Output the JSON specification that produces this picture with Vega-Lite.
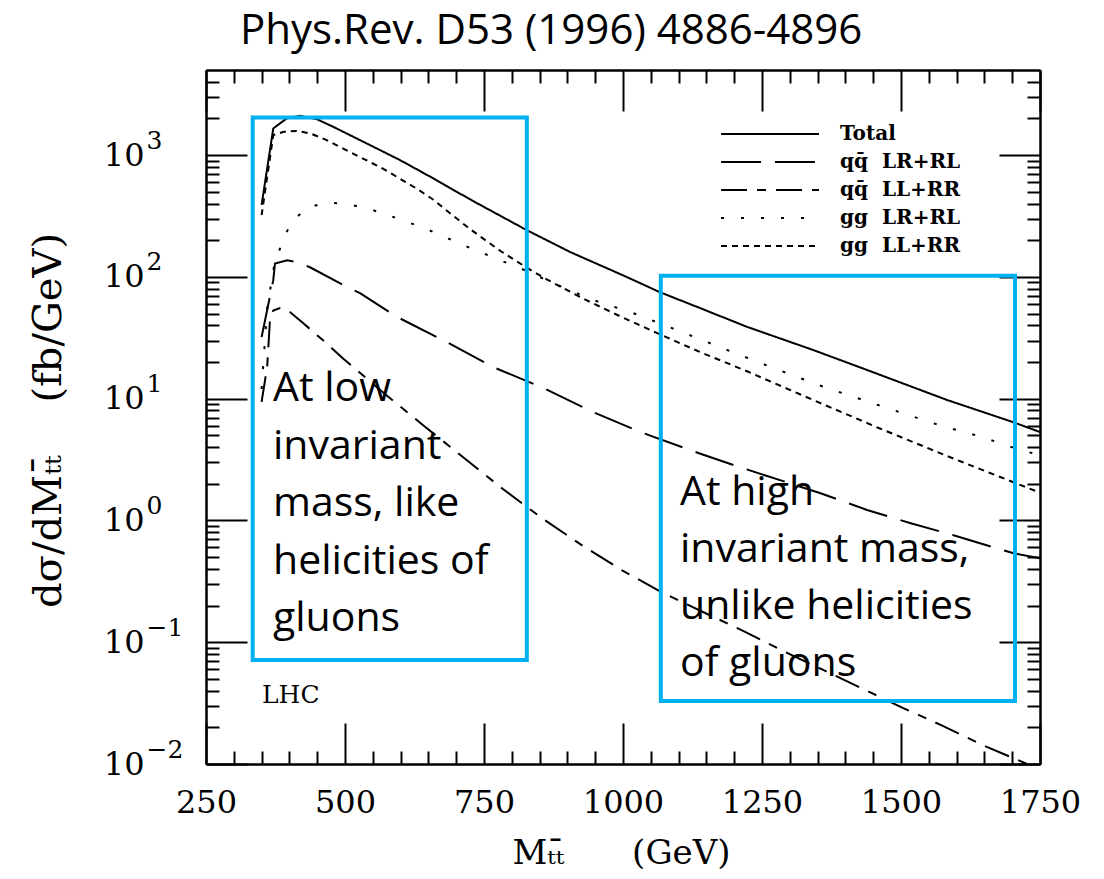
{
  "$schema": "https://vega.github.io/schema/vega-lite/v6.json",
  "width": 834,
  "height": 694,
  "autosize": {"type": "none"},
  "padding": {"left": 206, "top": 70, "right": 64, "bottom": 115},
  "background": "white",
  "config": {
    "view": {"stroke": null},
    "axis": {
      "grid": false,
      "tickWidth": 2,
      "tickColor": "black",
      "domainColor": "black",
      "domainWidth": 2,
      "labelFlush": false,
      "labelOverlap": false,
      "labelBound": false
    }
  },
  "title": {
    "text": "Phys.Rev. D53 (1996) 4886-4896",
    "font": "Open Sans",
    "fontSize": 42,
    "fontWeight": "normal",
    "color": "black",
    "anchor": "start",
    "frame": "group",
    "dx": 34,
    "dy": 45,
    "offset": 28,
    "baseline": "alphabetic"
  },
  "data": {
    "values": [
      {"M": 350, "dsdm": 390, "curve": "Total"},
      {"M": 371, "dsdm": 1656, "curve": "Total"},
      {"M": 395, "dsdm": 2000, "curve": "Total"},
      {"M": 419, "dsdm": 2100, "curve": "Total"},
      {"M": 449, "dsdm": 1977, "curve": "Total"},
      {"M": 479, "dsdm": 1706, "curve": "Total"},
      {"M": 539, "dsdm": 1247, "curve": "Total"},
      {"M": 599, "dsdm": 910, "curve": "Total"},
      {"M": 658, "dsdm": 647, "curve": "Total"},
      {"M": 689, "dsdm": 536, "curve": "Total"},
      {"M": 737, "dsdm": 404, "curve": "Total"},
      {"M": 827, "dsdm": 242, "curve": "Total"},
      {"M": 905, "dsdm": 160, "curve": "Total"},
      {"M": 1000, "dsdm": 103, "curve": "Total"},
      {"M": 1066, "dsdm": 75, "curve": "Total"},
      {"M": 1138, "dsdm": 55.6, "curve": "Total"},
      {"M": 1223, "dsdm": 38.9, "curve": "Total"},
      {"M": 1342, "dsdm": 25.1, "curve": "Total"},
      {"M": 1439, "dsdm": 17.2, "curve": "Total"},
      {"M": 1583, "dsdm": 9.75, "curve": "Total"},
      {"M": 1701, "dsdm": 6.43, "curve": "Total"},
      {"M": 1750, "dsdm": 5.32, "curve": "Total"},

      {"M": 350, "dsdm": 32, "curve": "qq\u0304\u2002\u2009LR+RL"},
      {"M": 371, "dsdm": 94, "curve": "qq\u0304\u2002\u2009LR+RL"},
      {"M": 374, "dsdm": 129, "curve": "qq\u0304\u2002\u2009LR+RL"},
      {"M": 396, "dsdm": 137, "curve": "qq\u0304\u2002\u2009LR+RL"},
      {"M": 414, "dsdm": 132, "curve": "qq\u0304\u2002\u2009LR+RL"},
      {"M": 437, "dsdm": 120, "curve": "qq\u0304\u2002\u2009LR+RL"},
      {"M": 504, "dsdm": 82.4, "curve": "qq\u0304\u2002\u2009LR+RL"},
      {"M": 527, "dsdm": 73.6, "curve": "qq\u0304\u2002\u2009LR+RL"},
      {"M": 594, "dsdm": 46.8, "curve": "qq\u0304\u2002\u2009LR+RL"},
      {"M": 676, "dsdm": 30.3, "curve": "qq\u0304\u2002\u2009LR+RL"},
      {"M": 766, "dsdm": 18.2, "curve": "qq\u0304\u2002\u2009LR+RL"},
      {"M": 854, "dsdm": 12.4, "curve": "qq\u0304\u2002\u2009LR+RL"},
      {"M": 946, "dsdm": 7.76, "curve": "qq\u0304\u2002\u2009LR+RL"},
      {"M": 1036, "dsdm": 5.22, "curve": "qq\u0304\u2002\u2009LR+RL"},
      {"M": 1138, "dsdm": 3.55, "curve": "qq\u0304\u2002\u2009LR+RL"},
      {"M": 1210, "dsdm": 2.74, "curve": "qq\u0304\u2002\u2009LR+RL"},
      {"M": 1354, "dsdm": 1.68, "curve": "qq\u0304\u2002\u2009LR+RL"},
      {"M": 1439, "dsdm": 1.22, "curve": "qq\u0304\u2002\u2009LR+RL"},
      {"M": 1516, "dsdm": 0.953, "curve": "qq\u0304\u2002\u2009LR+RL"},
      {"M": 1593, "dsdm": 0.759, "curve": "qq\u0304\u2002\u2009LR+RL"},
      {"M": 1701, "dsdm": 0.54, "curve": "qq\u0304\u2002\u2009LR+RL"},
      {"M": 1750, "dsdm": 0.49, "curve": "qq\u0304\u2002\u2009LR+RL"},

      {"M": 350, "dsdm": 9.4, "curve": "qq\u0304\u2002\u2009LL+RR"},
      {"M": 360, "dsdm": 18.2, "curve": "qq\u0304\u2002\u2009LL+RR"},
      {"M": 365, "dsdm": 44, "curve": "qq\u0304\u2002\u2009LL+RR"},
      {"M": 371, "dsdm": 53, "curve": "qq\u0304\u2002\u2009LL+RR"},
      {"M": 383, "dsdm": 55.4, "curve": "qq\u0304\u2002\u2009LL+RR"},
      {"M": 401, "dsdm": 51.4, "curve": "qq\u0304\u2002\u2009LL+RR"},
      {"M": 424.5, "dsdm": 41.8, "curve": "qq\u0304\u2002\u2009LL+RR"},
      {"M": 460, "dsdm": 30.3, "curve": "qq\u0304\u2002\u2009LL+RR"},
      {"M": 496, "dsdm": 21.5, "curve": "qq\u0304\u2002\u2009LL+RR"},
      {"M": 568, "dsdm": 11.3, "curve": "qq\u0304\u2002\u2009LL+RR"},
      {"M": 640, "dsdm": 6.07, "curve": "qq\u0304\u2002\u2009LL+RR"},
      {"M": 712, "dsdm": 3.32, "curve": "qq\u0304\u2002\u2009LL+RR"},
      {"M": 784, "dsdm": 1.81, "curve": "qq\u0304\u2002\u2009LL+RR"},
      {"M": 856, "dsdm": 1.03, "curve": "qq\u0304\u2002\u2009LL+RR"},
      {"M": 928, "dsdm": 0.617, "curve": "qq\u0304\u2002\u2009LL+RR"},
      {"M": 1000, "dsdm": 0.385, "curve": "qq\u0304\u2002\u2009LL+RR"},
      {"M": 1072, "dsdm": 0.254, "curve": "qq\u0304\u2002\u2009LL+RR"},
      {"M": 1144, "dsdm": 0.177, "curve": "qq\u0304\u2002\u2009LL+RR"},
      {"M": 1216, "dsdm": 0.124, "curve": "qq\u0304\u2002\u2009LL+RR"},
      {"M": 1288, "dsdm": 0.0847, "curve": "qq\u0304\u2002\u2009LL+RR"},
      {"M": 1360, "dsdm": 0.0592, "curve": "qq\u0304\u2002\u2009LL+RR"},
      {"M": 1432, "dsdm": 0.0413, "curve": "qq\u0304\u2002\u2009LL+RR"},
      {"M": 1504, "dsdm": 0.0288, "curve": "qq\u0304\u2002\u2009LL+RR"},
      {"M": 1576, "dsdm": 0.0205, "curve": "qq\u0304\u2002\u2009LL+RR"},
      {"M": 1647, "dsdm": 0.0143, "curve": "qq\u0304\u2002\u2009LL+RR"},
      {"M": 1727, "dsdm": 0.01, "curve": "qq\u0304\u2002\u2009LL+RR"},
      {"M": 1750, "dsdm": 0.0089, "curve": "qq\u0304\u2002\u2009LL+RR"},

      {"M": 350, "dsdm": 12, "curve": "gg\u2002\u2009LR+RL"},
      {"M": 360, "dsdm": 55, "curve": "gg\u2002\u2009LR+RL"},
      {"M": 372, "dsdm": 120, "curve": "gg\u2002\u2009LR+RL"},
      {"M": 388, "dsdm": 200, "curve": "gg\u2002\u2009LR+RL"},
      {"M": 404, "dsdm": 283, "curve": "gg\u2002\u2009LR+RL"},
      {"M": 431, "dsdm": 367, "curve": "gg\u2002\u2009LR+RL"},
      {"M": 466, "dsdm": 409, "curve": "gg\u2002\u2009LR+RL"},
      {"M": 503, "dsdm": 396, "curve": "gg\u2002\u2009LR+RL"},
      {"M": 539, "dsdm": 367, "curve": "gg\u2002\u2009LR+RL"},
      {"M": 574, "dsdm": 326, "curve": "gg\u2002\u2009LR+RL"},
      {"M": 608, "dsdm": 287, "curve": "gg\u2002\u2009LR+RL"},
      {"M": 644, "dsdm": 250, "curve": "gg\u2002\u2009LR+RL"},
      {"M": 676, "dsdm": 216, "curve": "gg\u2002\u2009LR+RL"},
      {"M": 712, "dsdm": 183, "curve": "gg\u2002\u2009LR+RL"},
      {"M": 743, "dsdm": 160, "curve": "gg\u2002\u2009LR+RL"},
      {"M": 779, "dsdm": 137, "curve": "gg\u2002\u2009LR+RL"},
      {"M": 815, "dsdm": 118, "curve": "gg\u2002\u2009LR+RL"},
      {"M": 874, "dsdm": 89, "curve": "gg\u2002\u2009LR+RL"},
      {"M": 946, "dsdm": 64.6, "curve": "gg\u2002\u2009LR+RL"},
      {"M": 1018, "dsdm": 50.5, "curve": "gg\u2002\u2009LR+RL"},
      {"M": 1088, "dsdm": 38, "curve": "gg\u2002\u2009LR+RL"},
      {"M": 1156, "dsdm": 28.6, "curve": "gg\u2002\u2009LR+RL"},
      {"M": 1225, "dsdm": 21.5, "curve": "gg\u2002\u2009LR+RL"},
      {"M": 1295, "dsdm": 16.2, "curve": "gg\u2002\u2009LR+RL"},
      {"M": 1363, "dsdm": 12.4, "curve": "gg\u2002\u2009LR+RL"},
      {"M": 1432, "dsdm": 9.75, "curve": "gg\u2002\u2009LR+RL"},
      {"M": 1502, "dsdm": 7.62, "curve": "gg\u2002\u2009LR+RL"},
      {"M": 1574, "dsdm": 5.96, "curve": "gg\u2002\u2009LR+RL"},
      {"M": 1646, "dsdm": 4.84, "curve": "gg\u2002\u2009LR+RL"},
      {"M": 1714, "dsdm": 3.79, "curve": "gg\u2002\u2009LR+RL"},
      {"M": 1750, "dsdm": 3.44, "curve": "gg\u2002\u2009LR+RL"},

      {"M": 350, "dsdm": 321, "curve": "gg\u2002\u2009LL+RR"},
      {"M": 371, "dsdm": 1460, "curve": "gg\u2002\u2009LL+RR"},
      {"M": 390, "dsdm": 1555, "curve": "gg\u2002\u2009LL+RR"},
      {"M": 413, "dsdm": 1580, "curve": "gg\u2002\u2009LL+RR"},
      {"M": 437, "dsdm": 1510, "curve": "gg\u2002\u2009LL+RR"},
      {"M": 467, "dsdm": 1330, "curve": "gg\u2002\u2009LL+RR"},
      {"M": 509, "dsdm": 1060, "curve": "gg\u2002\u2009LL+RR"},
      {"M": 539, "dsdm": 905, "curve": "gg\u2002\u2009LL+RR"},
      {"M": 569, "dsdm": 770, "curve": "gg\u2002\u2009LL+RR"},
      {"M": 599, "dsdm": 640, "curve": "gg\u2002\u2009LL+RR"},
      {"M": 629, "dsdm": 530, "curve": "gg\u2002\u2009LL+RR"},
      {"M": 659, "dsdm": 430, "curve": "gg\u2002\u2009LL+RR"},
      {"M": 689, "dsdm": 333, "curve": "gg\u2002\u2009LL+RR"},
      {"M": 719, "dsdm": 259, "curve": "gg\u2002\u2009LL+RR"},
      {"M": 748, "dsdm": 207, "curve": "gg\u2002\u2009LL+RR"},
      {"M": 779, "dsdm": 164, "curve": "gg\u2002\u2009LL+RR"},
      {"M": 809, "dsdm": 134, "curve": "gg\u2002\u2009LL+RR"},
      {"M": 838, "dsdm": 111, "curve": "gg\u2002\u2009LL+RR"},
      {"M": 868, "dsdm": 92.7, "curve": "gg\u2002\u2009LL+RR"},
      {"M": 928, "dsdm": 66.5, "curve": "gg\u2002\u2009LL+RR"},
      {"M": 988, "dsdm": 49.1, "curve": "gg\u2002\u2009LL+RR"},
      {"M": 1049, "dsdm": 36.6, "curve": "gg\u2002\u2009LL+RR"},
      {"M": 1138, "dsdm": 24.2, "curve": "gg\u2002\u2009LL+RR"},
      {"M": 1223, "dsdm": 16.8, "curve": "gg\u2002\u2009LL+RR"},
      {"M": 1342, "dsdm": 9.75, "curve": "gg\u2002\u2009LL+RR"},
      {"M": 1462, "dsdm": 5.69, "curve": "gg\u2002\u2009LL+RR"},
      {"M": 1583, "dsdm": 3.38, "curve": "gg\u2002\u2009LL+RR"},
      {"M": 1701, "dsdm": 2.07, "curve": "gg\u2002\u2009LL+RR"},
      {"M": 1750, "dsdm": 1.69, "curve": "gg\u2002\u2009LL+RR"}
    ]
  },
  "layer": [
    {
      "mark": {"type": "line", "color": "black", "strokeWidth": 2, "clip": true},
      "encoding": {
        "x": {
          "field": "M",
          "type": "quantitative",
          "scale": {"domain": [250, 1750], "nice": false, "zero": false},
          "axis": {
            "orient": "bottom",
            "values": [250, 500, 750, 1000, 1250, 1500, 1750],
            "format": "d",
            "tickSize": -41,
            "labelFont": "DejaVu Serif",
            "labelFontSize": 32,
            "labelColor": "black",
            "labelPadding": 64,
            "title": "M\u209c\u209c\u0304\u2003\u2003(GeV)",
            "titleFont": "DejaVu Serif",
            "titleFontSize": 34,
            "titleFontWeight": "normal",
            "titleColor": "black",
            "titleX": 415,
            "titleY": 89,
            "titleBaseline": "middle",
            "titleAlign": "center"
          }
        },
        "y": {
          "field": "dsdm",
          "type": "quantitative",
          "scale": {"type": "log", "domain": [0.01, 5000], "nice": false},
          "axis": {
            "orient": "left",
            "values": [0.01, 0.1, 1, 10, 100, 1000],
            "labelExpr": "'10'",
            "tickSize": -41,
            "labelFont": "DejaVu Serif",
            "labelFontSize": 32,
            "labelColor": "black",
            "labelPadding": 103,
            "labelBaseline": "middle",
            "encode": {"labels": {"update": {"dx": {"signal": "datum.value < 0.5 ? -28 : 0"}}}},
            "title": "d\u03c3/dM\u209c\u209c\u0304\u2003 (fb/GeV)",
            "titleFont": "DejaVu Serif",
            "titleFontSize": 40,
            "titleFontWeight": "normal",
            "titleColor": "black",
            "titleAngle": -90,
            "titleX": -158,
            "titleY": 350,
            "titleBaseline": "middle",
            "titleAlign": "center"
          }
        },
        "strokeDash": {
          "field": "curve",
          "type": "nominal",
          "scale": {
            "domain": ["Total", "qq\u0304\u2002\u2009LR+RL", "qq\u0304\u2002\u2009LL+RR", "gg\u2002\u2009LR+RL", "gg\u2002\u2009LL+RR"],
            "range": [[1, 0], [40, 14], [26, 10, 9, 10], [3, 17], [6, 5]]
          },
          "legend": {
            "orient": "none",
            "legendX": 553,
            "legendY": 53,
            "title": null,
            "padding": 0,
            "symbolType": "M-4.9,0H4.9",
            "symbolSize": 400,
            "symbolStrokeWidth": 2,
            "symbolStrokeColor": "black",
            "symbolFillColor": "transparent",
            "symbolOffset": 0,
            "labelOffset": 59,
            "labelFont": "DejaVu Serif",
            "labelFontSize": 20,
            "labelFontWeight": "bold",
            "labelColor": "black",
            "labelLimit": 300,
            "rowPadding": 7
          }
        }
      }
    },
    {
      "data": {"values": [{}]},
      "mark": {"type": "rect", "filled": false, "stroke": "#00B0F0", "strokeWidth": 4},
      "encoding": {
        "x": {
          "datum": 334,
          "type": "quantitative",
          "axis": {
            "orient": "top",
            "values": [250, 500, 750, 1000, 1250, 1500, 1750],
            "labels": false,
            "title": null,
            "tickSize": -41
          }
        },
        "x2": {"datum": 827},
        "y": {
          "datum": 2040,
          "type": "quantitative",
          "axis": {
            "orient": "right",
            "values": [0.01, 0.1, 1, 10, 100, 1000],
            "labels": false,
            "title": null,
            "tickSize": -41
          }
        },
        "y2": {"datum": 0.0714}
      }
    },
    {
      "data": {"values": [{}]},
      "mark": {"type": "rect", "filled": false, "stroke": "#00B0F0", "strokeWidth": 4},
      "encoding": {
        "x": {
          "datum": 1068,
          "type": "quantitative",
          "axis": {
            "orient": "bottom",
            "values": [300, 350, 400, 450, 550, 600, 650, 700, 800, 850, 900, 950, 1050, 1100, 1150, 1200, 1300, 1350, 1400, 1450, 1550, 1600, 1650, 1700],
            "labels": false,
            "title": null,
            "tickSize": -13
          }
        },
        "x2": {"datum": 1705},
        "y": {
          "datum": 102,
          "type": "quantitative",
          "axis": {
            "orient": "left",
            "values": [0.02, 0.03, 0.04, 0.05, 0.06, 0.07, 0.08, 0.09, 0.2, 0.3, 0.4, 0.5, 0.6, 0.7, 0.8, 0.9, 2, 3, 4, 5, 6, 7, 8, 9, 20, 30, 40, 50, 60, 70, 80, 90, 200, 300, 400, 500, 600, 700, 800, 900, 2000, 3000, 4000],
            "labels": false,
            "title": null,
            "tickSize": -13
          }
        },
        "y2": {"datum": 0.0329}
      }
    },
    {
      "data": {"values": [{}]},
      "mark": {
        "type": "text",
        "text": ["At low", "invariant", "mass, like", "helicities of", "gluons"],
        "font": "Open Sans",
        "fontSize": 41,
        "lineHeight": 57.5,
        "align": "left",
        "baseline": "alphabetic",
        "color": "black"
      },
      "encoding": {
        "x": {
          "datum": 370.5,
          "type": "quantitative",
          "axis": {
            "orient": "top",
            "values": [300, 350, 400, 450, 550, 600, 650, 700, 800, 850, 900, 950, 1050, 1100, 1150, 1200, 1300, 1350, 1400, 1450, 1550, 1600, 1650, 1700],
            "labels": false,
            "title": null,
            "tickSize": -13
          }
        },
        "y": {
          "datum": 9.55,
          "type": "quantitative",
          "axis": {
            "orient": "right",
            "values": [0.02, 0.03, 0.04, 0.05, 0.06, 0.07, 0.08, 0.09, 0.2, 0.3, 0.4, 0.5, 0.6, 0.7, 0.8, 0.9, 2, 3, 4, 5, 6, 7, 8, 9, 20, 30, 40, 50, 60, 70, 80, 90, 200, 300, 400, 500, 600, 700, 800, 900, 2000, 3000, 4000],
            "labels": false,
            "title": null,
            "tickSize": -13
          }
        }
      }
    },
    {
      "data": {"values": [{}]},
      "mark": {
        "type": "text",
        "text": ["At high", "invariant mass,", "unlike helicities", "of gluons"],
        "font": "Open Sans",
        "fontSize": 41,
        "lineHeight": 57,
        "align": "left",
        "baseline": "alphabetic",
        "color": "black"
      },
      "encoding": {
        "x": {"datum": 1102.5, "type": "quantitative", "axis": null},
        "y": {
          "datum": 1.34,
          "type": "quantitative",
          "axis": {
            "orient": "left",
            "values": [0.01, 0.1, 1, 10, 100, 1000],
            "labelExpr": "datum.value > 500 ? '3' : datum.value > 50 ? '2' : datum.value > 5 ? '1' : datum.value > 0.5 ? '0' : datum.value > 0.05 ? '\u22121' : '\u22122'",
            "ticks": false,
            "domain": false,
            "title": null,
            "labelFont": "DejaVu Serif",
            "labelFontSize": 25,
            "labelColor": "black",
            "labelAlign": "left",
            "labelBaseline": "middle",
            "labelPadding": 60,
            "labelOffset": -15,
            "encode": {"labels": {"update": {"dx": {"signal": "datum.value < 0.5 ? -28 : 0"}}}}
          }
        }
      }
    },
    {
      "data": {"values": [{}]},
      "mark": {
        "type": "text",
        "text": "LHC",
        "font": "DejaVu Serif",
        "fontSize": 25,
        "align": "left",
        "baseline": "alphabetic",
        "color": "black"
      },
      "encoding": {
        "x": {"datum": 350.7, "type": "quantitative", "axis": null},
        "y": {"datum": 0.0317, "type": "quantitative", "axis": null}
      }
    }
  ],
  "resolve": {"axis": {"x": "independent", "y": "independent"}}
}
